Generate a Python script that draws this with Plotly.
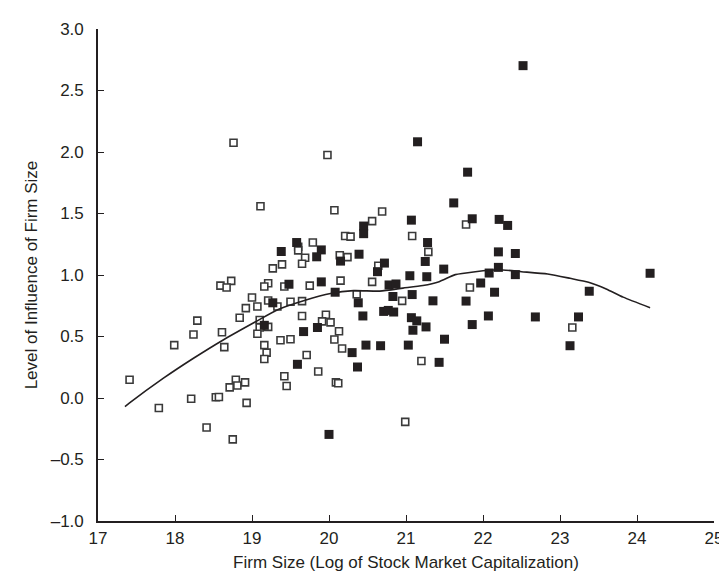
import plotly.graph_objects as go

# Open squares (smaller firms)
open_x = [18.76, 19.11, 19.79, 19.60, 19.60, 19.69, 19.39, 19.65, 19.27, 18.73,
          18.59, 18.67, 19.21, 19.16, 19.42, 19.75, 19.00, 19.07, 18.92, 19.21,
          19.33, 19.50, 19.65, 18.84, 19.65, 18.29, 19.10, 19.96, 18.61, 18.24,
          19.10, 19.07, 19.21, 19.91, 20.02, 20.13, 20.07, 20.17, 18.64, 19.37,
          19.50, 19.16, 19.19, 19.16, 19.71, 17.41, 17.99, 17.79, 18.21, 18.53,
          18.57, 18.79, 18.71, 18.81, 18.91, 18.93, 18.41, 18.75, 19.42, 19.45,
          19.86, 19.98, 20.07, 20.69, 21.78, 20.56, 21.08, 20.21, 20.28, 21.29,
          20.14, 20.24, 20.64, 21.83, 20.15, 20.56, 20.36, 20.95, 21.20, 20.09,
          20.12, 20.99, 23.16]
open_y = [2.075, 1.559, 1.264, 1.230, 1.200, 1.140, 1.086, 1.091, 1.054, 0.952,
          0.914, 0.898, 0.933, 0.906, 0.906, 0.914, 0.817, 0.744, 0.731, 0.793,
          0.744, 0.782, 0.788, 0.653, 0.667, 0.629, 0.634, 0.677, 0.535, 0.516,
          0.573, 0.522, 0.578, 0.623, 0.615, 0.543, 0.476, 0.403, 0.414, 0.470,
          0.478, 0.430, 0.369, 0.317, 0.349, 0.148, 0.430, -0.081, -0.006, 0.006,
          0.008, 0.148, 0.086, 0.102, 0.127, -0.040, -0.240, -0.336, 0.177, 0.098,
          0.215, 1.976, 1.527, 1.516, 1.411, 1.438, 1.317, 1.317, 1.312, 1.188,
          1.161, 1.145, 1.075, 0.898, 0.954, 0.944, 0.844, 0.790, 0.301, 0.127,
          0.120, -0.194, 0.573]

# Filled squares (larger firms)
filled_x = [19.58, 19.90, 19.38, 19.84, 19.48, 19.90, 19.27, 19.16, 19.85, 20.15,
            20.08, 19.67, 19.59, 21.15, 21.80, 21.62, 21.07, 21.86, 22.21, 20.45,
            20.45, 21.28, 22.20, 20.39, 20.72, 20.63, 21.25, 21.49, 22.20, 22.08,
            21.05, 21.27, 21.97, 22.15, 20.38, 20.78, 20.87, 20.83, 21.08, 21.35,
            21.78, 20.44, 20.71, 20.77, 20.84, 21.07, 21.14, 22.07, 21.86, 21.09,
            21.26, 21.50, 20.48, 20.67, 21.03, 20.30, 21.43, 20.37, 20.00, 22.52,
            22.32, 22.42, 22.42, 24.17, 23.38, 22.68, 23.24, 23.13]
filled_y = [1.264, 1.204, 1.191, 1.148, 0.925, 0.944, 0.774, 0.591, 0.573, 1.113,
            0.860, 0.540, 0.274, 2.083, 1.836, 1.586, 1.446, 1.457, 1.452, 1.398,
            1.336, 1.264, 1.188, 1.169, 1.097, 1.027, 1.110, 1.048, 1.062, 1.016,
            0.994, 0.986, 0.935, 0.860, 0.774, 0.919, 0.927, 0.825, 0.841, 0.790,
            0.788, 0.667, 0.704, 0.712, 0.699, 0.653, 0.627, 0.667, 0.597, 0.551,
            0.578, 0.478, 0.430, 0.425, 0.430, 0.369, 0.290, 0.252, -0.296, 2.702,
            1.403, 1.175, 1.003, 1.014, 0.868, 0.659, 0.659, 0.425]

# Smoothed fit line
fit_x = [17.35, 17.41, 17.85, 18.24, 18.62, 19.04, 19.34, 19.68, 20.02, 20.32,
         20.66, 20.96, 21.22, 21.43, 21.64, 21.90, 22.20, 22.50, 22.84, 23.13,
         23.37, 23.60, 23.82, 24.17]
fit_y = [-0.07, -0.04, 0.161, 0.323, 0.470, 0.618, 0.720, 0.793, 0.850, 0.873,
         0.869, 0.893, 0.914, 0.946, 1.003, 1.027, 1.043, 1.027, 1.008, 0.973,
         0.941, 0.887, 0.820, 0.734]

x_ticks = [17, 18, 19, 20, 21, 22, 23, 24, 25]
y_ticks = [-1.0, -0.5, 0.0, 0.5, 1.0, 1.5, 2.0, 2.5, 3.0]
y_labels = ["\u20131.0", "\u20130.5", "0.0", "0.5", "1.0", "1.5", "2.0", "2.5", "3.0"]

ink = "#231f20"
font = "Liberation Sans, Arial, Helvetica, sans-serif"

fig = go.Figure()
fig.add_trace(go.Scatter(
    x=open_x, y=open_y, mode="markers",
    marker=dict(symbol="square", size=7, color="white",
                line=dict(color="#3a3a3a", width=1.6)),
    showlegend=False, hoverinfo="skip"))
fig.add_trace(go.Scatter(
    x=filled_x, y=filled_y, mode="markers",
    marker=dict(symbol="square", size=9, color=ink, line=dict(width=0)),
    showlegend=False, hoverinfo="skip"))
fig.add_trace(go.Scatter(
    x=fit_x, y=fit_y, mode="lines",
    line=dict(color=ink, width=1.6, shape="spline", smoothing=0.6),
    showlegend=False, hoverinfo="skip"))

fig.update_layout(
    width=727, height=573,
    margin=dict(l=90, r=14, t=18, b=59),
    paper_bgcolor="white", plot_bgcolor="white",
    font=dict(family=font, size=17, color=ink),
    xaxis=dict(
        range=[17, 25], tickvals=x_ticks, ticktext=[str(v) for v in x_ticks],
        showgrid=False, zeroline=False, showline=True, linecolor=ink, linewidth=1.6,
        ticks="inside", ticklen=6, tickwidth=1.4, tickcolor=ink,
        tickfont=dict(size=17), ticklabelstandoff=1,
        title=dict(text="Firm Size (Log of Stock Market Capitalization)",
                   font=dict(size=17), standoff=9),
    ),
    yaxis=dict(
        range=[-1, 3], tickvals=y_ticks, ticktext=y_labels,
        showgrid=False, zeroline=False, showline=True, linecolor=ink, linewidth=1.6,
        ticks="inside", ticklen=6, tickwidth=1.4, tickcolor=ink,
        tickfont=dict(size=17), ticklabelstandoff=9,
        title=dict(text="Level of Influence of Firm Size",
                   font=dict(size=17), standoff=9),
    ),
)

fig.write_html("out.html")
